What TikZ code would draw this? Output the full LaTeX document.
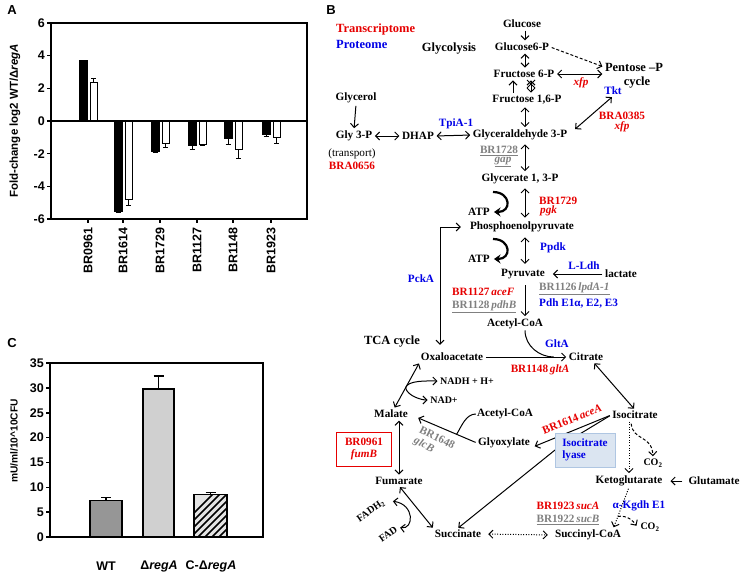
\documentclass[tikz,border=0pt]{standalone}
\usepackage{fontspec}
\setmainfont{Liberation Serif}
\setsansfont{Liberation Sans}
\usetikzlibrary{arrows.meta, calc}

\definecolor{txred}{RGB}{230,0,0}
\definecolor{txblue}{RGB}{0,0,230}
\definecolor{txgray}{RGB}{128,128,128}
\definecolor{lyasefill}{RGB}{219,229,241}
\definecolor{lyaseline}{RGB}{175,198,226}
\definecolor{barwt}{RGB}{150,150,150}
\definecolor{barreg}{RGB}{208,208,208}
\definecolor{barcomp}{RGB}{228,228,228}

\tikzset{
    met-label/.style={font=\bfseries\fontsize{11.2}{12}\selectfont, inner sep=1pt},
    small-label/.style={font=\bfseries\fontsize{10}{11}\selectfont, inner sep=1pt},
    title-label/.style={font=\bfseries\fontsize{12.5}{14}\selectfont, inner sep=1pt},
    red-gene/.style={met-label, text=txred},
    blue-prot/.style={met-label, text=txblue},
    gray-gene/.style={met-label, text=txgray},
    step-arrow/.style={line width=1pt, ->, shorten <=1.5pt, shorten >=1.5pt},
    both-arrow/.style={line width=1pt, <->, shorten <=1.5pt, shorten >=1.5pt},
    dot-line/.style={dash pattern=on 1pt off 1.6pt},
    dash-line/.style={dash pattern=on 3pt off 2pt},
    atp-arrow/.style={line width=2.2pt, -{Stealth[length=6.5pt,width=9pt]}},
    panel-label/.style={font=\sffamily\bfseries\fontsize{13}{14}\selectfont},
    tick-label/.style={font=\sffamily\bfseries\fontsize{12.5}{14}\selectfont, inner sep=1pt},
    axis-title/.style={font=\sffamily\bfseries\fontsize{11.5}{13}\selectfont, inner sep=1pt},
    axis-line/.style={line width=1.6pt},
}

\begin{document}
\begin{tikzpicture}[x=1pt, y=-1pt, >={Straight Barb[length=4pt,width=8pt]}]

        \useasboundingbox (0,0) rectangle (743,576);

        % PANEL LETTERS
        \node[panel-label] (LA) at (12,10)  {A};
        \node[panel-label] (LB) at (331,10) {B};
        \node[panel-label] (LC) at (12,343) {C};

        % PANEL A: FOLD CHANGE
        \node[axis-title, rotate=90] (YA) at (15,121) {Fold-change log2 WT/Δ\textit{regA}};
        \begin{scope}[shift={(0,121)}, y={(0pt,16.33pt)}]
            \draw[axis-line] (51,-6) rectangle (307,6);
            \foreach \v in {-6,-4,...,6} {
                \draw[axis-line] (47,\v) -- (51,\v);
                \node[tick-label, anchor=east] (ta\v) at (46,\v) {\v};
            }
            \foreach \c/\b/\be/\w/\we/\lab in {88/3.7/3.72/2.35/2.6/BR0961, 123/-5.55/-5.6/-4.8/-5.15/BR1614,
                    160/-1.85/-1.9/-1.4/-1.65/BR1729, 197/-1.5/-1.75/-1.45/-1.5/BR1127,
                    233/-1.05/-1.45/-1.75/-2.3/BR1148, 271/-0.8/-0.95/-1.0/-1.35/BR1923} {
                \draw[line width=0.8pt, fill=black] ({\c-9},0) rectangle ({\c-1},\b);
                \draw[line width=1pt] ({\c-5},\b) -- ({\c-5},\be) ({\c-7.5},\be) -- ({\c-2.5},\be);
                \draw[line width=0.8pt, fill=white] ({\c+2},0) rectangle ({\c+9},\w);
                \draw[line width=1pt] ({\c+5.5},\w) -- ({\c+5.5},\we) ({\c+3},\we) -- ({\c+8},\we);
                \draw[axis-line] (\c,-6) -- (\c,-6.25);
                \node[tick-label, rotate=90, anchor=east] (xa\lab) at (\c,-6.45) {\lab};
            }
            \draw[axis-line] (51,0) -- (307,0);
        \end{scope}

        % PANEL C: ACTIVITY
        \node[axis-title, font=\sffamily\bfseries\fontsize{10.2}{12}\selectfont, rotate=90] (YC) at (14,441) {mU/ml/10\textasciicircum 10CFU};
        \begin{scope}[shift={(0,537)}, y={(0pt,4.971pt)}]
            \foreach \xa/\xb/\h/\e/\col in {90/122/7.4/7.9/barwt, 143/174/29.8/32.4/barreg, 194/227/8.5/9.0/barcomp} {
                \fill[\col] (\xa,0) rectangle (\xb,\h);
                \draw[line width=1.4pt] ({(\xa+\xb)/2},\h) -- ({(\xa+\xb)/2},\e) ({(\xa+\xb)/2-5},\e) -- ({(\xa+\xb)/2+5},\e);
            }
            \begin{scope}
                \clip (194,0) rectangle (227,8.5);
                \foreach \k in {170,177,...,240} {
                    \draw[line width=1.6pt] (\k,0) -- ++(50,10.06);
                }
            \end{scope}
            \foreach \xa/\xb/\h in {90/122/7.4, 143/174/29.8, 194/227/8.5} {
                \draw[line width=1.4pt] (\xa,0) rectangle (\xb,\h);
            }
            \draw[axis-line] (50,0) rectangle (263,35);
            \foreach \v in {0,5,...,35} {
                \draw[axis-line] (46,\v) -- (50,\v);
                \node[tick-label, anchor=east] (tc\v) at (45,\v) {\v};
            }
        \end{scope}
        \node[tick-label] (XWT)  at (106,566) {WT};
        \node[tick-label] (XREG) at (159,566) {Δ\textit{regA}};
        \node[tick-label] (XCMP) at (211,566) {C-Δ\textit{regA}};

        % PANEL B: LEGEND AND TITLES
        \node[title-label, text=txred, anchor=west]  (TRANS) at (335,29) {Transcriptome};
        \node[title-label, text=txblue, anchor=west] (PROT)  at (335,44) {Proteome};
        \node[title-label] (GLYC) at (449,49)  {Glycolysis};
        \node[title-label] (TCA)  at (392,342) {TCA cycle};
        \node[title-label] (PPP)  at (634,67)  {Pentose –P};
        \node[title-label] (PPPC) at (637,83)  {cycle};

        % PANEL B: METABOLITES
        \node[met-label] (GLC)   at (522,24)  {Glucose};
        \node[met-label] (G6P)   at (522,47)  {Glucose6-P};
        \node[met-label] (F6P)   at (524,74)  {Fructose 6-P};
        \node[met-label] (F16P)  at (527,100) {Fructose 1,6-P};
        \node[met-label] (GAP)   at (520,135) {Glyceraldehyde 3-P};
        \node[met-label] (G13P)  at (520,179) {Glycerate 1, 3-P};
        \node[met-label] (PEP)   at (522,227) {Phosphoenolpyruvate};
        \node[met-label] (PYR)   at (523,274) {Pyruvate};
        \node[met-label] (ACOA)  at (515,324) {Acetyl-CoA};
        \node[met-label] (LAC)   at (621,274) {lactate};
        \node[met-label] (GOL)   at (356,98)  {Glycerol};
        \node[met-label] (GLY3P) at (354,136) {Gly 3-P};
        \node[met-label] (DHAP)  at (418,136) {DHAP};
        \node[met-label] (OAA)   at (452,357) {Oxaloacetate};
        \node[met-label] (CIT)   at (586,357) {Citrate};
        \node[met-label] (ICIT)  at (635,415) {Isocitrate};
        \node[met-label] (MAL)   at (391,414) {Malate};
        \node[met-label] (FUM)   at (399,481) {Fumarate};
        \node[met-label] (SUC)   at (458,534) {Succinate};
        \node[met-label] (SCOA)  at (588,535) {Succinyl-CoA};
        \node[met-label] (AKG)   at (629,481) {Ketoglutarate};
        \node[met-label] (GLU)   at (714,481) {Glutamate};
        \node[met-label] (GLX)   at (504,443) {Glyoxylate};
        \node[met-label] (ACOA2) at (505,414) {Acetyl-CoA};
        \node[met-label] (ATP1)  at (479,212) {ATP};
        \node[met-label] (ATP2)  at (479,259) {ATP};
        \node[small-label] (NADH) at (467,381) {NADH + H+};
        \node[small-label] (NAD)  at (444,400) {NAD+};
        \node[small-label, rotate=35] (FADH) at (371,511) {FADH\textsubscript{2}};
        \node[small-label, rotate=35] (FAD)  at (388,534) {FAD};
        \node[small-label] (CO2A) at (653,463) {CO\textsubscript{2}};
        \node[small-label] (CO2B) at (650,527) {CO\textsubscript{2}};

        % PANEL B: GENES AND PROTEINS
        \node[blue-prot] (TPIA)    at (456,124) {TpiA-1};
        \node[met-label, font=\fontsize{11.2}{12}\selectfont] (TRSP) at (352,154) {(transport)};
        \node[red-gene]  (BRA0656) at (352,166) {BRA0656};
        \node[red-gene]  (XFPA)    at (581,83)  {\textit{xfp}};
        \node[blue-prot] (TKT)     at (613,91)  {Tkt};
        \node[red-gene]  (BRA0385) at (622,116) {BRA0385};
        \node[red-gene]  (XFPB)    at (622,127) {\textit{xfp}};
        \node[gray-gene] (BR1728)  at (499,151) {\underline{BR1728}};
        \node[gray-gene] (GAPG)    at (503,162) {\underline{\textit{gap}}};
        \node[red-gene, anchor=west]  (BR1729) at (538,201) {BR1729};
        \node[red-gene, anchor=west]  (PGK)    at (539,211) {\textit{pgk}};
        \node[blue-prot, anchor=west] (PPDK)   at (539,248) {Ppdk};
        \node[blue-prot] (LLDH)    at (584,266) {L-Ldh};
        \node[gray-gene, anchor=west] (BR1126) at (538,289) {\underline{BR1126\,\textit{lpdA-1}}};
        \node[blue-prot, anchor=west] (PDH)    at (538,303) {Pdh E1α, E2, E3};
        \node[red-gene, anchor=west]  (BR1127) at (451,292) {BR1127\,\textit{aceF}};
        \node[gray-gene, anchor=west] (BR1128) at (451,307) {\underline{BR1128\,\textit{pdhB}}};
        \node[blue-prot] (PCKA)    at (421,279) {PckA};
        \node[blue-prot] (GLTA)    at (557,344) {GltA};
        \node[red-gene]  (BR1148)  at (540,370) {BR1148\,\textit{gltA}};
        \node[red-gene, draw=txred, line width=1pt, align=center, minimum width=55pt, minimum height=34pt] (FUMB) at (364,449) {BR0961\\\textit{fumB}};
        \node[gray-gene, rotate=-27, align=left] (GLCB) at (434,444) {BR1648\\\textit{glcB}};
        \node[red-gene, rotate=22] (ACEA)  at (572,419) {BR1614\,\textit{aceA}};
        \node[blue-prot] (KGDH)    at (639,506) {α-Kgdh E1};
        \node[red-gene]  (BR1923)  at (568,506) {BR1923\,\textit{sucA}};
        \node[gray-gene] (BR1922)  at (568,520) {\underline{BR1922\,\textit{sucB}}};

        % GLYCEROL BRANCH
        \draw[step-arrow] (GOL.south) -- (GLY3P.north);
        \draw[both-arrow] (GLY3P.east) -- (DHAP.west);
        \draw[both-arrow] (DHAP.east) -- (GAP.west);

        % GLYCOLYSIS
        \coordinate (COL)  at (525,0);
        \coordinate (COLL) at (513,0);
        \coordinate (COLR) at (531,0);
        \coordinate (XMARK) at (531,84);
        \draw[step-arrow] (COL |- GLC.south)  -- (COL |- G6P.north);
        \draw[both-arrow] (COL |- G6P.south)  -- (COL |- F6P.north);
        \draw[step-arrow] (COLL |- F16P.north) -- (COLL |- F6P.south);
        \draw[both-arrow] (COLR |- F6P.south) -- (COLR |- F16P.north);
        \draw[line width=1pt] (XMARK) ++(-4,-4) -- ++(8,8) (XMARK) ++(-4,4) -- ++(8,-8);
        \draw[both-arrow] (COL |- F16P.south) -- (COL |- GAP.north);
        \draw[both-arrow, shorten <=3pt] (COL |- GAP.south) -- (COL |- G13P.north);
        \draw[both-arrow, shorten <=3pt, shorten >=3pt] (COL |- G13P.south) -- (COL |- PEP.north);
        \draw[both-arrow, shorten <=4pt, shorten >=4pt] (COL |- PEP.south) -- (COL |- PYR.north);
        \draw[step-arrow, shorten <=5pt] (COL |- PYR.south) -- (COL |- ACOA.north);
        \draw[step-arrow, shorten >=7pt] (LAC.west) -- (PYR.east);

        % PENTOSE PHOSPHATE
        \draw[step-arrow, dash-line] (G6P.east) -- (PPP.west);
        \draw[both-arrow] (F6P.east) -- (F6P.east -| PPP.west);
        \draw[both-arrow, shorten <=9pt] (GAP.east) -- (TKT.south);

        % ATP
        \draw[atp-arrow] ($(ATP1.east)+(2,-20)$) .. controls +(18,0) and +(18,0) .. ($(ATP1.east)+(3,0)$);
        \draw[atp-arrow] ($(ATP2.east)+(2,-20)$) .. controls +(18,0) and +(18,0) .. ($(ATP2.east)+(3,0)$);

        % TCA CYCLE
        \coordinate (PCKT) at (440,227);
        \draw[both-arrow, shorten <=8pt, shorten >=7pt] (PEP.west) -- (PCKT) -- (PCKT |- OAA.north);
        \draw[step-arrow] (OAA.east) -- (CIT.west);
        \draw[line width=1pt] (COL |- ACOA.south) .. controls +(0,16) and +(-14,0) .. ($(CIT.west)+(-14,0)$);
        \draw[both-arrow] (CIT.-35) -- (ICIT.north);
        \draw[both-arrow] (OAA.south west) -- (MAL.60);
        \coordinate (NADJ) at ($(OAA.south west)!0.55!(MAL.60)$);
        \draw[step-arrow, shorten <=0pt] (NADJ) .. controls +(2,-8) and +(-10,0) .. (NADH.west);
        \draw[step-arrow, shorten <=0pt] (NADJ) .. controls +(2,8) and +(-8,0) .. (NAD.west);
        \draw[both-arrow] (FUM.north |- MAL.south) -- (FUM.north);
        \draw[both-arrow] (FUM.south) -- (SUC.north west);
        \draw[both-arrow, shorten <=0pt, shorten >=0pt] ($(FADH.east)+(8,0)$) .. controls +(22,3) and +(14,2) .. ($(FAD.east)+(3,0)$);
        \draw[both-arrow, dot-line, shorten <=6pt, shorten >=6pt] (SUC.east) -- (SCOA.west);

        % GLYOXYLATE SHUNT
        \coordinate (LYH) at (560,446);
        \draw[step-arrow] (ICIT.west) -- (LYH) -- (SUC.100);
        \draw[step-arrow, shorten >=4pt] (ICIT.west) -- (GLX.-10);
        \node[draw=lyaseline, fill=lyasefill, text=txblue, met-label, align=left, minimum width=60pt, minimum height=34pt] (LYASE) at (585,450) {Isocitrate\\lyase};
        \draw[step-arrow, shorten >=10pt] (GLX.west) -- (MAL.east);
        \coordinate (GLXJ) at ($(GLX.west)!0.3!(MAL.east)$);
        \draw[line width=1pt] (ACOA2.west) .. controls +(-10,0) and +(5,-8) .. (GLXJ);

        % KETOGLUTARATE
        \draw[step-arrow, dot-line] (AKG.north |- ICIT.south) -- (AKG.north);
        \draw[step-arrow, dash-line] ($(ICIT.south)+(-4,2)$) .. controls +(2,19) and +(-1,-23) .. (CO2A.north);
        \draw[step-arrow, shorten <=5pt, shorten >=7pt] (GLU.west) -- (AKG.east);
        \coordinate (SCOAT) at ($(SCOA.north east)+(-9,0)$);
        \draw[step-arrow, dot-line] (AKG.south) -- (SCOAT);
        \coordinate (AKGJ) at ($(AKG.south)!0.7!(SCOAT)$);
        \draw[step-arrow, dash-line, shorten <=0pt] (AKGJ) .. controls +(10,-1) and +(-4,-6) .. ($(CO2B.west)+(-2,0)$);

\end{tikzpicture}
\end{document}
